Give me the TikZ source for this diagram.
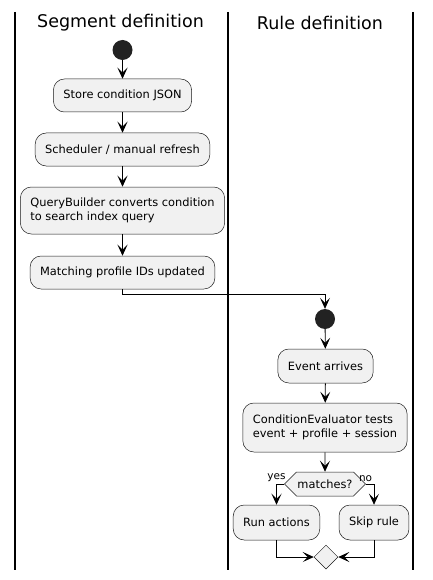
\documentclass[tikz,border=0pt]{standalone}
\usepackage{fontspec}
\setsansfont{DejaVu Sans}
\usetikzlibrary{arrows.meta,shapes.geometric,shapes.symbols}
\definecolor{boxfill}{HTML}{F1F1F1}
\definecolor{boxline}{HTML}{181818}
\definecolor{startfill}{HTML}{222222}
\begin{document}
\begin{tikzpicture}[
   x=1pt,y=-1pt,
   font=\sffamily\fontsize{11.4}{14}\selectfont,
   lane/.style={line width=1.4pt},
   lanetitle/.style={font=\sffamily\fontsize{17.5}{20}\selectfont},
   start/.style={circle,fill=startfill,minimum size=20pt,inner sep=0pt},
   action/.style={draw=boxline,fill=boxfill,line width=0.5pt,rounded corners=11pt,minimum height=33pt,inner xsep=10pt,align=left},
   decide/.style={signal,signal to=east and west,signal pointer angle=90,draw=boxline,fill=boxfill,line width=0.5pt,minimum height=24pt,inner xsep=1pt},
   merge/.style={diamond,draw=boxline,fill=boxfill,line width=0.5pt,minimum size=24pt,inner sep=0pt},
   flow/.style={-{Stealth[length=11pt,width=10pt,inset=5pt]},line width=0.8pt},
   guard/.style={font=\sffamily\fontsize{10.5}{12}\selectfont,inner sep=1.5pt}]
\useasboundingbox (0,0) rectangle (432,580);
\foreach \x in {15,228,413}
   \draw[lane] (\x,12) -- (\x,570);
\node[lanetitle] (segtitle) at (120.5,23) {Segment definition};
\node[lanetitle] (ruletitle) at (320,23) {Rule definition};
\node[start] (segstart) at (122.5,50) {};
\node[action] (store) at (122.5,95.5) {Store condition JSON};
\node[action] (refresh) at (122.5,149.5) {Scheduler / manual refresh};
\node[action,minimum height=47pt] (convert) at (122.5,210.5) {QueryBuilder converts condition\\to search index query};
\node[action] (updated) at (122.5,272.5) {Matching profile IDs updated};
\node[start] (rulestart) at (325,319) {};
\node[action,minimum height=34pt] (event) at (325.5,366) {Event arrives};
\node[action,minimum height=49pt] (evaluate) at (325,427.5) {ConditionEvaluator tests\\event + profile + session};
\node[decide] (matches) at (325,484) {matches?};
\node[action,minimum height=35pt] (run) at (276.5,522.5) {Run actions};
\node[action,minimum height=35pt] (skip) at (374,522.5) {Skip rule};
\node[merge] (join) at (326,557) {};
\draw[flow] (segstart) -- (store);
\draw[flow] (store) -- (refresh);
\draw[flow] (refresh) -- (convert);
\draw[flow] (convert) -- (updated);
\draw[flow] (updated.south) -- ++(0,5) -| (rulestart.north);
\draw[flow] (rulestart) -- (event);
\draw[flow] (event) -- (evaluate);
\draw[flow] (evaluate) -- (matches);
\draw[flow] (matches.west) -| node[guard,pos=0.5,above] {yes} (run.north);
\draw[flow] (matches.east) -| node[guard,pos=0.5,above left] {no} (skip.north);
\draw[flow] (run.south) |- (join.west);
\draw[flow] (skip.south) |- (join.east);
\end{tikzpicture}
\end{document}
